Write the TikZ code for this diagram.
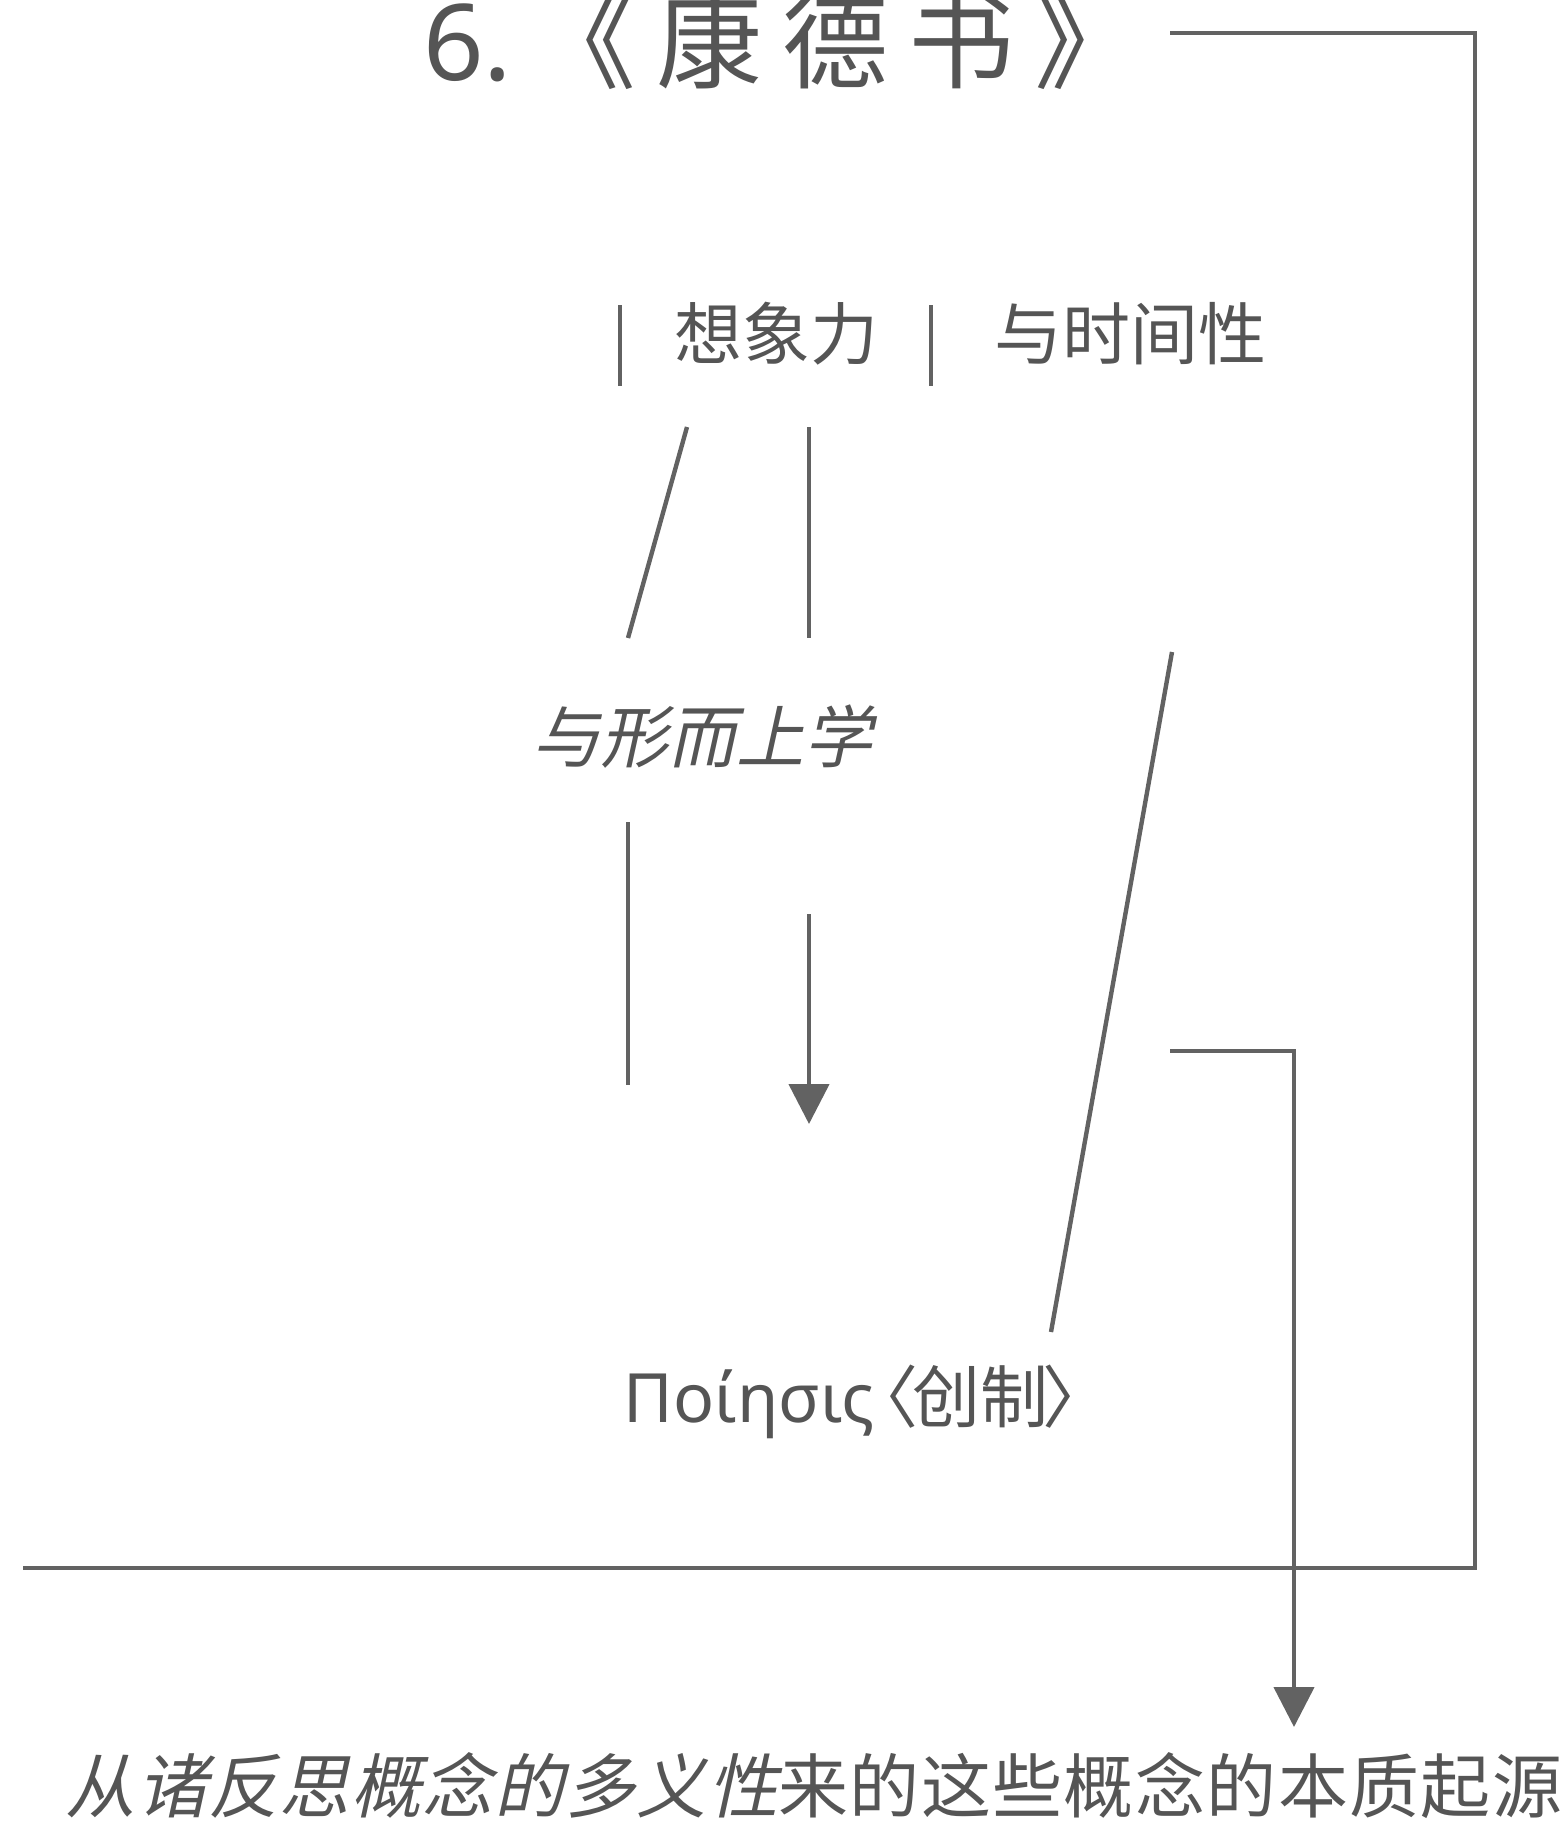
\documentclass[tikz,border=0pt]{standalone}
\usepackage{fontspec}
\usetikzlibrary{arrows.meta}
\newfontfamily\cjk{Noto Sans CJK SC}
\newfontfamily\cjkit[FakeSlant=0.22]{Noto Sans CJK SC}
\newfontfamily\cjkwide[LetterSpace=2]{Noto Sans CJK SC}
\newfontfamily\cjkwideit[LetterSpace=2,FakeSlant=0.22]{Noto Sans CJK SC}
\newfontfamily\cjktitle[LetterSpace=19]{Noto Sans CJK SC}
\newfontfamily\grk{Noto Sans}
\definecolor{ink}{HTML}{626262}
\definecolor{txt}{HTML}{555555}
\begin{document}
\begin{tikzpicture}[x=1pt,y=-1pt,
  rule/.style={draw=ink,line width=4.4pt},
  tiparrow/.style={rule,-{Triangle[width=40pt,length=40pt]}},
  lbl/.style={text=txt,inner sep=0pt,font=\cjk\fontsize{68}{68}\selectfont},
  lblit/.style={text=txt,inner sep=0pt,font=\cjkit\fontsize{68}{68}\selectfont}]
\useasboundingbox (0,0) rectangle (1564,1824);
% texts
\node[text=txt,inner sep=0pt,anchor=base,font=\cjktitle\fontsize{106}{106}\selectfont] (title) at (782,80) {{\grk 6.}\kern18pt《康德书》};
\node[lbl] (imag) at (776,334) {想象力};
\node[lbl] (time) at (1130,334) {与时间性};
\node[lblit] (meta) at (702,737) {与形而上学};
\node[lbl] (poi) at (852,1402) {{\grk Ποίησις}\kern-24pt〈\kern-6pt 创制\kern-6pt〉\kern-30pt};
\node[text=txt,inner sep=0pt,font=\cjkwide\fontsize{70}{70}\selectfont] (origin) at (814,1786) {{\cjkwideit 从诸反思概念的多义性}来的这些概念的本质起源};
% coordinates
\coordinate (t0) at (1170,33);
\coordinate (t1) at (1475,33);
\coordinate (t2) at (1475,1568);
\coordinate (t3) at (23,1568);
\coordinate (b1a) at (620,305);
\coordinate (b1b) at (620,386);
\coordinate (b2a) at (931,305);
\coordinate (b2b) at (931,386);
\coordinate (s1a) at (687,427);
\coordinate (s1b) at (628,638);
\coordinate (v1a) at (809,427);
\coordinate (v1b) at (809,638);
\coordinate (v2a) at (628,822);
\coordinate (v2b) at (628,1085);
\coordinate (a1a) at (809,914);
\coordinate (a1b) at (809,1124);
\coordinate (s2a) at (1172,652);
\coordinate (s2b) at (1051,1332);
\coordinate (c0) at (1170,1051);
\coordinate (c1) at (1294,1051);
\coordinate (c2) at (1294,1727);
% connectors
\draw[rule] (t0) -- (t1) -- (t2) -- (t3);
\draw[rule] (b1a) -- (b1b);
\draw[rule] (b2a) -- (b2b);
\draw[rule] (s1a) -- (s1b);
\draw[rule] (v1a) -- (v1b);
\draw[rule] (v2a) -- (v2b);
\draw[tiparrow] (a1a) -- (a1b);
\draw[rule] (s2a) -- (s2b);
\draw[tiparrow] (c0) -- (c1) -- (c2);
\end{tikzpicture}
\end{document}
